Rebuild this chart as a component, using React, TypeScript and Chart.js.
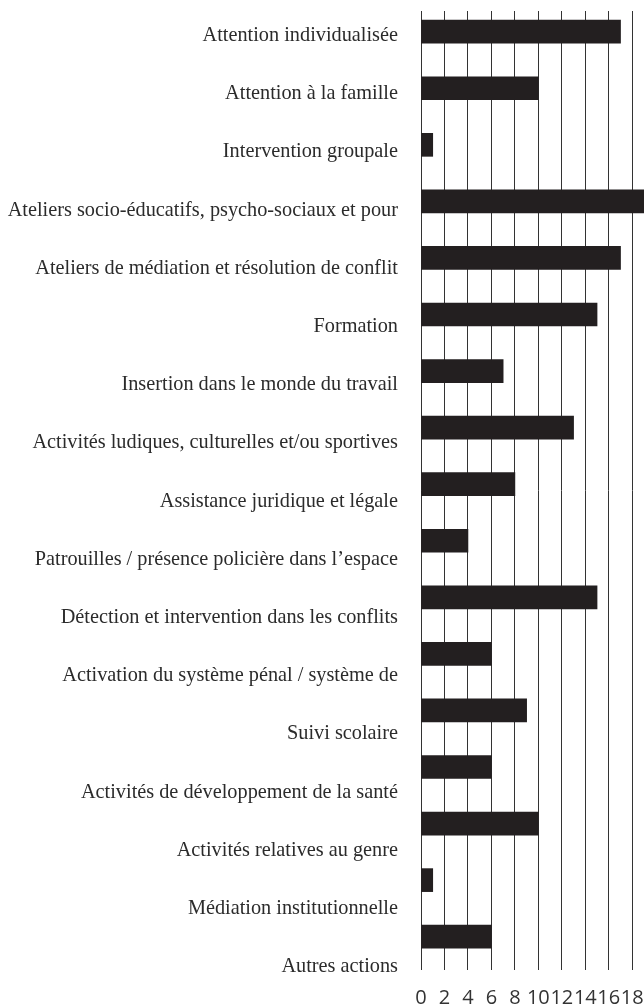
import React, { useEffect, useRef } from "react";
import { Chart, registerables } from "chart.js";

Chart.register(...registerables);

const categories: string[] = [
  "Attention individualisée",
  "Attention à la famille",
  "Intervention groupale",
  "Ateliers socio-éducatifs, psycho-sociaux et pour",
  "Ateliers de médiation et résolution de conflit",
  "Formation",
  "Insertion dans le monde du travail",
  "Activités ludiques, culturelles et/ou sportives",
  "Assistance juridique et légale",
  "Patrouilles / présence policière dans l’espace",
  "Détection et intervention dans les conflits",
  "Activation du système pénal / système de",
  "Suivi scolaire",
  "Activités de développement de la santé",
  "Activités relatives au genre",
  "Médiation institutionnelle",
  "Autres actions",
];

const values: number[] = [17, 10, 1, 19, 17, 15, 7, 13, 8, 4, 15, 6, 9, 6, 10, 1, 6];

const xTickValues: number[] = [0, 2, 4, 6, 8, 10, 12, 14, 16, 18];

export default function App() {
  const ref = useRef<HTMLCanvasElement>(null);

  useEffect(() => {
    if (!ref.current) return;
    const chart = new Chart(ref.current, {
      type: "bar",
      data: {
        datasets: [
          {
            data: values.map((v, i) => ({ x: v, y: i })),
            backgroundColor: "#231f20",
            borderWidth: 0,
            barThickness: 23,
            xAxisID: "x",
            yAxisID: "y",
          },
        ],
      },
      options: {
        indexAxis: "y",
        responsive: false,
        animation: false,
        layout: { padding: { top: 11, left: 0, right: 0, bottom: 0 } },
        plugins: { legend: { display: false }, tooltip: { enabled: false } },
        scales: {
          x: {
            type: "linear",
            position: "bottom",
            min: 0,
            max: 19,
            afterBuildTicks: (s: any) => {
              s.ticks = xTickValues.map((v) => ({ value: v }));
            },
            ticks: {
              autoSkip: false,
              maxRotation: 0,
              minRotation: 0,
              padding: 0,
              color: "#333333",
              font: { family: '"Open Sans"', size: 20, lineHeight: "16px" },
              callback: (v: any) => String(v),
            },
            grid: {
              color: "#333333",
              lineWidth: 1,
              drawTicks: true,
              tickLength: 20,
              tickColor: "rgba(0,0,0,0)",
            },
            border: { display: false },
            afterFit: (s: any) => {
              s.height = 36;
            },
          },
          y: {
            type: "linear",
            reverse: true,
            offset: false,
            min: -0.366,
            max: 16.589,
            display: false,
          },
          yl: {
            type: "linear",
            position: "left",
            reverse: true,
            offset: false,
            min: -0.4244,
            max: 16.054,
            afterBuildTicks: (s: any) => {
              s.ticks = categories.map((_, i) => ({ value: i }));
            },
            ticks: {
              autoSkip: false,
              padding: 0,
              color: "#2b2b2b",
              font: { family: '"Liberation Serif"', size: 20.3, lineHeight: 1 },
              callback: (_v: any, i: number) => categories[i],
            },
            grid: { display: false, drawTicks: true, tickLength: 23 },
            border: { display: false },
            afterFit: (s: any) => {
              s.width = 421;
            },
          },
        },
      } as any,
    });
    return () => chart.destroy();
  }, []);

  return (
    <div style={{ position: "absolute", left: 0, top: 0, width: 644, height: 1006 }}>
      <canvas ref={ref} width={644} height={1006} style={{ display: "block" }} />
    </div>
  );
}
